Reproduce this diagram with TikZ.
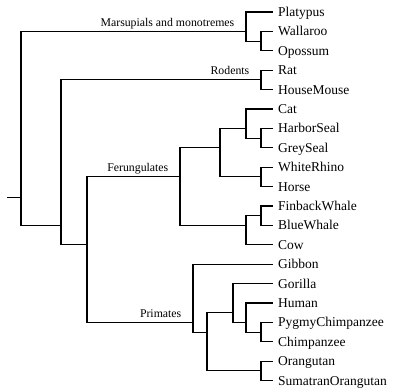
\documentclass[tikz,border=0pt]{standalone}
\usepackage{fontspec}
\setmainfont{Liberation Serif}
\usepackage{tikz}
\usetikzlibrary{positioning}

\begin{document}
\begin{tikzpicture}[x=1pt,y=-1pt,
		leaf/.style={anchor=west,inner xsep=5pt,inner ysep=0pt,text height=8.8pt,text depth=0pt,font=\fontsize{13.5}{15}\selectfont},
		grp/.style={anchor=base east,inner sep=0pt,font=\fontsize{11.8}{13}\selectfont},
		branch/.style={line width=1.1pt}]
		\useasboundingbox (0,0) rectangle (393,389);

		\node[leaf] (platypus) at (273,12) {Platypus};
		\node[leaf] (wallaroo) at (273,31.4) {Wallaroo};
		\node[leaf] (opossum) at (273,50.8) {Opossum};
		\node[leaf] (rat) at (273,70.2) {Rat};
		\node[leaf] (housemouse) at (273,89.6) {HouseMouse};
		\node[leaf] (cat) at (273,109) {Cat};
		\node[leaf] (harborseal) at (273,128.4) {HarborSeal};
		\node[leaf] (greyseal) at (273,147.8) {GreySeal};
		\node[leaf] (whiterhino) at (273,167.2) {WhiteRhino};
		\node[leaf] (horse) at (273,186.6) {Horse};
		\node[leaf] (finback) at (273,206) {FinbackWhale};
		\node[leaf] (bluewhale) at (273,225.4) {BlueWhale};
		\node[leaf] (cow) at (273,244.8) {Cow};
		\node[leaf] (gibbon) at (273,264.2) {Gibbon};
		\node[leaf] (gorilla) at (273,283.6) {Gorilla};
		\node[leaf] (human) at (273,303) {Human};
		\node[leaf] (pygmy) at (273,322.4) {PygmyChimpanzee};
		\node[leaf] (chimp) at (273,341.8) {Chimpanzee};
		\node[leaf] (orangutan) at (273,361.2) {Orangutan};
		\node[leaf] (sumatran) at (273,380.6) {SumatranOrangutan};

		\coordinate (stub) at (7,197.3);
		\coordinate (root) at (21,197.3);
		\coordinate (marsup) at (246,31.4);
		\coordinate (wallop) at (261,41.1);
		\coordinate (placental) at (61,225.4);
		\coordinate (rodents) at (261,79.9);
		\coordinate (rest) at (87,244.8);
		\coordinate (ferung) at (180,176.9);
		\coordinate (carnper) at (220,147.8);
		\coordinate (carn) at (246,128.4);
		\coordinate (seals) at (261,138.1);
		\coordinate (perisso) at (261,176.9);
		\coordinate (cetart) at (246,225.4);
		\coordinate (whales) at (261,215.7);
		\coordinate (primates) at (193,322.4);
		\coordinate (hominids) at (207,332.1);
		\coordinate (african) at (233,312.7);
		\coordinate (homopan) at (246,322.4);
		\coordinate (pan) at (261,332.1);
		\coordinate (pongo) at (261,370.9);

		\draw[branch] (stub) -- (root);
		\draw[branch] (root) |- (marsup);
		\draw[branch] (root) |- (placental);
		\draw[branch] (marsup) |- (platypus.west);
		\draw[branch] (marsup) |- (wallop);
		\draw[branch] (wallop) |- (wallaroo.west);
		\draw[branch] (wallop) |- (opossum.west);

		\draw[branch] (placental) |- (rodents);
		\draw[branch] (placental) |- (rest);
		\draw[branch] (rodents) |- (rat.west);
		\draw[branch] (rodents) |- (housemouse.west);

		\draw[branch] (rest) |- (ferung);
		\draw[branch] (rest) |- (primates);
		\draw[branch] (ferung) |- (carnper);
		\draw[branch] (ferung) |- (cetart);
		\draw[branch] (carnper) |- (carn);
		\draw[branch] (carnper) |- (perisso);
		\draw[branch] (carn) |- (cat.west);
		\draw[branch] (carn) |- (seals);
		\draw[branch] (seals) |- (harborseal.west);
		\draw[branch] (seals) |- (greyseal.west);
		\draw[branch] (perisso) |- (whiterhino.west);
		\draw[branch] (perisso) |- (horse.west);
		\draw[branch] (cetart) |- (whales);
		\draw[branch] (cetart) |- (cow.west);
		\draw[branch] (whales) |- (finback.west);
		\draw[branch] (whales) |- (bluewhale.west);

		\draw[branch] (primates) |- (gibbon.west);
		\draw[branch] (primates) |- (hominids);
		\draw[branch] (hominids) |- (african);
		\draw[branch] (hominids) |- (pongo);
		\draw[branch] (african) |- (gorilla.west);
		\draw[branch] (african) |- (homopan);
		\draw[branch] (homopan) |- (human.west);
		\draw[branch] (homopan) |- (pan);
		\draw[branch] (pan) |- (pygmy.west);
		\draw[branch] (pan) |- (chimp.west);
		\draw[branch] (pongo) |- (orangutan.west);
		\draw[branch] (pongo) |- (sumatran.west);

		\node[grp] (lmarsup) at ([xshift=-11.5pt,yshift=5pt]marsup) {Marsupials and monotremes};
		\node[grp] (lrodents) at ([xshift=-11.5pt,yshift=5pt]rodents) {Rodents};
		\node[grp] (lferung) at ([xshift=-11.5pt,yshift=5pt]ferung) {Ferungulates};
		\node[grp] (lprimates) at ([xshift=-11.5pt,yshift=5pt]primates) {Primates};
	\end{tikzpicture}
\end{document}
